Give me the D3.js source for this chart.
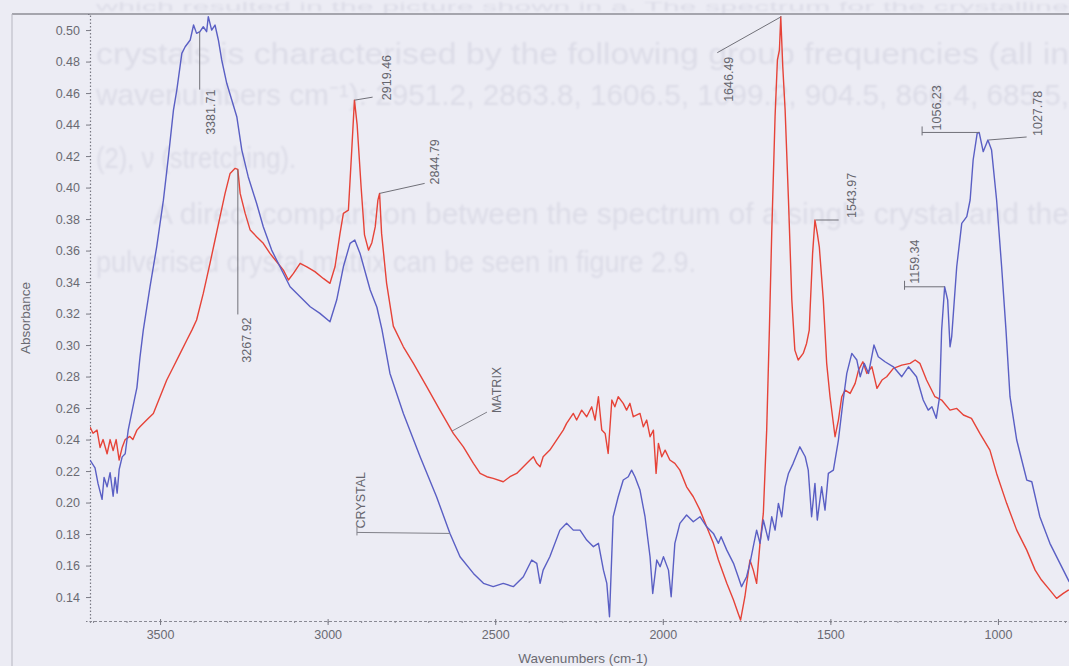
<!DOCTYPE html>
<html>
<head>
<meta charset="utf-8">
<script src="https://cdn.jsdelivr.net/npm/d3@7"></script>
<style>
  html, body { margin: 0; padding: 0; background: #ececf4; }
  svg { display: block; }
  text { font-family: "Liberation Sans", Arial, sans-serif; }
</style>
</head>
<body>
<svg id="chart" width="1069" height="666"></svg>
<script>
// ---------------- DATA ----------------
// CRYSTAL spectrum: [wavenumber (cm-1), absorbance]
const crystal = [
  [3709,0.227],[3694,0.222],[3685,0.212],[3673,0.202],[3667,0.216],[3658,0.210],[3649,0.219],
  [3640,0.204],[3634,0.216],[3628,0.206],[3622,0.221],[3613,0.229],[3604,0.231],[3595,0.246],
  [3575,0.267],[3569,0.273],[3560,0.292],[3550,0.3095],[3530,0.337],[3510,0.3624],[3490,0.392],
  [3475,0.4196],[3460,0.4492],[3450,0.4619],[3435,0.4852],[3425,0.4894],[3410,0.4937],[3400,0.5032],
  [3391,0.4979],[3381,0.499],[3371,0.5021],[3361,0.499],[3356,0.5085],[3346,0.500],[3336,0.5032],
  [3326,0.4937],[3316,0.481],[3301,0.4662],[3286,0.4556],[3271,0.445],[3256,0.4238],[3237,0.4069],
  [3212,0.390],[3192,0.3751],[3167,0.3603],[3142,0.3497],[3112,0.337],[3082,0.3307],[3052,0.3243],
  [3023,0.3201],[2993,0.3148],[2973,0.3286],[2953,0.3497],[2933,0.3646],[2919,0.3667],[2903,0.358],
  [2873,0.335],[2853,0.324],[2838,0.31],[2814,0.282],[2774,0.2566],[2724,0.2291],[2675,0.2037],
  [2635,0.1804],[2605,0.1656],[2565,0.155],[2535,0.1487],[2506,0.1466],[2476,0.1487],[2446,0.1466],
  [2416,0.1529],[2391,0.1635],[2376,0.1614],[2366,0.1487],[2357,0.1571],[2337,0.1656],[2307,0.1825],
  [2287,0.1868],[2267,0.1825],[2247,0.1825],[2227,0.1762],[2207,0.172],[2192,0.1741],[2177,0.1571],
  [2167,0.1487],[2159,0.1275],[2148,0.191],[2133,0.2037],[2118,0.2143],[2103,0.2164],[2093,0.2206],
  [2083,0.2164],[2068,0.2079],[2053,0.191],[2038,0.1656],[2030,0.1423],[2018,0.1635],[2008,0.1593],
  [1998,0.1656],[1983,0.1571],[1975,0.1402],[1964,0.1741],[1949,0.1868],[1929,0.1921],[1909,0.1878],
  [1889,0.191],[1869,0.1846],[1849,0.1804],[1834,0.1741],[1826,0.1783],[1809,0.1698],[1789,0.1614],
  [1775,0.1529],[1765,0.1466],[1750,0.1529],[1740,0.1614],[1730,0.172],[1720,0.1825],[1710,0.1741],
  [1700,0.1889],[1685,0.1762],[1675,0.191],[1665,0.1825],[1655,0.1995],[1645,0.191],[1635,0.21],
  [1625,0.2185],[1611,0.2249],[1591,0.2354],[1575,0.2291],[1566,0.2206],[1556,0.191],[1546,0.2122],
  [1539,0.1889],[1526,0.21],[1516,0.1952],[1506,0.2185],[1491,0.2206],[1476,0.2397],[1463,0.263],
  [1451,0.282],[1436,0.2947],[1421,0.2905],[1411,0.2799],[1399,0.2884],[1386,0.282],[1370,0.300],
  [1357,0.2926],[1337,0.2894],[1312,0.2862],[1287,0.2799],[1267,0.2862],[1243,0.2799],[1223,0.2651],
  [1208,0.2587],[1197,0.2608],[1184,0.2535],[1174,0.2672],[1168,0.3095],[1159,0.337],[1150,0.3286],
  [1143,0.2989],[1138,0.3053],[1133,0.3201],[1123,0.3497],[1108,0.3773],[1093,0.3815],[1083,0.3921],
  [1074,0.4175],[1062,0.4344],[1056,0.435],[1044,0.4228],[1030,0.4302],[1019,0.4238],[1004,0.3921],
  [989,0.3497],[976,0.3095],[964,0.2672],[944,0.2397],[914,0.2143],[899,0.2132],[875,0.191],
  [845,0.1741],[815,0.1614],[788,0.150],[770,0.145]
];
// MATRIX spectrum: [wavenumber (cm-1), absorbance]
const matrix = [
  [3709,0.248],[3700,0.244],[3688,0.246],[3679,0.235],[3670,0.240],[3658,0.231],[3649,0.240],
  [3640,0.233],[3631,0.240],[3622,0.227],[3613,0.235],[3604,0.240],[3590,0.242],[3581,0.240],
  [3569,0.246],[3560,0.2481],[3540,0.2524],[3520,0.2566],[3500,0.2672],[3480,0.2778],[3460,0.2862],
  [3440,0.2947],[3420,0.3032],[3405,0.3095],[3391,0.3159],[3371,0.3328],[3351,0.3519],[3336,0.3667],
  [3321,0.3815],[3306,0.3963],[3291,0.409],[3276,0.4122],[3268,0.4115],[3261,0.3963],[3246,0.3836],
  [3231,0.373],[3212,0.3688],[3192,0.3646],[3172,0.3582],[3152,0.3529],[3132,0.3476],[3117,0.3413],
  [3102,0.3455],[3082,0.3519],[3062,0.3497],[3038,0.3466],[3013,0.3423],[2993,0.3392],[2978,0.3497],
  [2963,0.3709],[2953,0.3836],[2938,0.3857],[2928,0.4238],[2920,0.4555],[2912,0.440],[2900,0.400],
  [2890,0.370],[2878,0.3603],[2868,0.365],[2858,0.375],[2850,0.392],[2845,0.3963],[2839,0.3709],
  [2824,0.3392],[2804,0.312],[2774,0.2989],[2744,0.2884],[2704,0.2735],[2665,0.2587],[2625,0.2439],
  [2595,0.2354],[2565,0.2249],[2545,0.2185],[2525,0.2164],[2506,0.2154],[2476,0.2132],[2456,0.2164],
  [2436,0.2185],[2416,0.2227],[2396,0.227],[2386,0.2291],[2376,0.2249],[2366,0.2227],[2357,0.2291],
  [2337,0.2333],[2317,0.2397],[2297,0.246],[2287,0.2503],[2267,0.2566],[2257,0.2524],[2242,0.2587],
  [2227,0.2545],[2212,0.2608],[2202,0.2524],[2192,0.2672],[2182,0.246],[2172,0.2439],[2163,0.2312],
  [2152,0.2651],[2143,0.2608],[2133,0.2672],[2118,0.263],[2108,0.2587],[2098,0.263],[2088,0.2545],
  [2068,0.2566],[2058,0.2481],[2048,0.2524],[2038,0.2418],[2028,0.246],[2020,0.2185],[2013,0.2376],
  [2003,0.2291],[1993,0.2333],[1979,0.227],[1964,0.2249],[1949,0.2206],[1929,0.21],[1909,0.2037],
  [1889,0.1952],[1869,0.1846],[1849,0.1741],[1834,0.1635],[1809,0.1487],[1789,0.1381],[1775,0.1296],
  [1768,0.1254],[1755,0.1402],[1740,0.1635],[1730,0.1571],[1720,0.1487],[1710,0.1741],[1700,0.1931],
  [1690,0.246],[1682,0.3095],[1675,0.3709],[1665,0.445],[1658,0.481],[1652,0.4873],[1648,0.5085],
  [1642,0.4767],[1635,0.4492],[1625,0.3921],[1615,0.3286],[1606,0.2968],[1596,0.2905],[1581,0.2947],
  [1571,0.301],[1563,0.3095],[1561,0.3201],[1553,0.3582],[1546,0.3794],[1539,0.3709],[1533,0.3624],
  [1521,0.3286],[1511,0.2884],[1501,0.2672],[1486,0.2418],[1476,0.2524],[1466,0.2672],[1456,0.2714],
  [1441,0.2693],[1426,0.2757],[1416,0.2841],[1403,0.2894],[1391,0.282],[1376,0.2862],[1361,0.2725],
  [1346,0.2778],[1332,0.2799],[1312,0.2852],[1287,0.2873],[1262,0.2884],[1247,0.2905],[1233,0.2884],
  [1213,0.2778],[1188,0.2672],[1168,0.2651],[1143,0.2587],[1123,0.2598],[1103,0.2556],[1079,0.2535],
  [1054,0.2439],[1024,0.2333],[1004,0.2185],[974,0.1995],[944,0.1825],[914,0.1698],[889,0.1571],
  [870,0.1508],[845,0.1444],[825,0.1392],[805,0.1423],[790,0.1444],[770,0.146]
];
// Peak annotations
const peakLabels = ["3381.71","3267.92","2919.46","2844.79","1646.49","1543.97","1159.34","1056.23","1027.78"];
const peakWn     = [3381.71, 3267.92, 2919.46, 2844.79, 1646.49, 1543.97, 1159.34, 1056.23, 1027.78];
const peakSeries = ["crystal","matrix","matrix","matrix","matrix","matrix","crystal","crystal","crystal"];
// Series name labels
const seriesNames = ["MATRIX", "CRYSTAL"];
const seriesLabelWn = [2629, 2635];
// Axis ticks
const yTicks = [0.14,0.16,0.18,0.20,0.22,0.24,0.26,0.28,0.30,0.32,0.34,0.36,0.38,0.40,0.42,0.44,0.46,0.48,0.50];
const xTicks = [3500, 3000, 2500, 2000, 1500, 1000];
const xTitle = "Wavenumbers (cm-1)";
const yTitle = "Absorbance";
// Bleed-through text of the scanned page behind the chart
const ghostLines = [
  "which resulted in the picture shown in a. The spectrum for the crystalline",
  "crystals is characterised by the following group frequencies (all in",
  "wavenumbers cm\u207B\u00B9): 2951.2, 2863.8, 1606.5, 1099.2, 904.5, 866.4, 685.5,",
  "(2), \u03BD (stretching).",
  "A direct comparison between the spectrum of a single crystal and the",
  "pulverised crystal matrix can be seen in figure 2.9."
];

// ---------------- DRAW ----------------
const W = 1069, H = 666;
const svg = d3.select("#chart");
svg.append("rect").attr("width", W).attr("height", H).attr("fill", "#ececf4");

const defs = svg.append("defs");
defs.append("filter").attr("id", "soft")
  .append("feGaussianBlur").attr("stdDeviation", 0.9);

// ghost (bleed-through) text
const ghostLayout = [
  {x: 96,  y: 11,  w: 973, fs: 13},
  {x: 96,  y: 64,  w: 973, fs: 29},
  {x: 96,  y: 105, w: 973, fs: 29},
  {x: 96,  y: 168, w: 200, fs: 29},
  {x: 153, y: 224, w: 916, fs: 29},
  {x: 96,  y: 272, w: 600, fs: 29}
];
const ghost = svg.append("g").attr("filter", "url(#soft)");
ghostLines.forEach((t, i) => {
  const L = ghostLayout[i];
  ghost.append("text")
    .attr("x", L.x).attr("y", L.y)
    .attr("textLength", L.w).attr("lengthAdjust", "spacingAndGlyphs")
    .attr("font-size", L.fs).attr("fill", "#dcdce7")
    .text(t);
});

const x = d3.scaleLinear().domain([3709, 788]).range([90, 1069]);
const y = d3.scaleLinear().domain([0.1248, 0.5102]).range([621, 14]);

// frame lines
svg.append("line").attr("x1", 12).attr("x2", W).attr("y1", 14).attr("y2", 14)
  .attr("stroke", "#8e8e96").attr("stroke-width", 1.6);
svg.append("line").attr("x1", 12).attr("x2", 12).attr("y1", 14).attr("y2", H)
  .attr("stroke", "#b6b6c0").attr("stroke-width", 1);

// Y axis
const yAxis = svg.append("g").attr("transform", "translate(90,0)")
  .call(d3.axisLeft(y).tickValues(yTicks).tickFormat(d3.format(".2f")).tickSize(4).tickPadding(6));
yAxis.select(".domain").attr("stroke", "#7a7a84").attr("stroke-dasharray", "1.5,2").attr("stroke-width", 1.2);
yAxis.selectAll(".tick line").attr("stroke", "#7a7a84");
yAxis.selectAll(".tick text").attr("font-size", 12.5).attr("fill", "#6a6a72")
  .attr("font-family", "Liberation Sans, Arial, sans-serif");

// X axis
const minor = d3.range(3700, 780, -100);
const xMinor = svg.append("g").attr("transform", "translate(0,621)")
  .call(d3.axisBottom(x).tickValues(minor).tickSize(2).tickFormat(""));
xMinor.select(".domain").attr("stroke", "#8a8a94").attr("stroke-dasharray", "3,2").attr("stroke-width", 1.2);
xMinor.selectAll(".tick line").attr("stroke", "#8a8a94");
const xAxis = svg.append("g").attr("transform", "translate(0,621)")
  .call(d3.axisBottom(x).tickValues(xTicks).tickFormat(d3.format("d")).tickSize(4).tickPadding(5));
xAxis.select(".domain").remove();
xAxis.selectAll(".tick line").attr("stroke", "#7a7a84").attr("y1", -2);
xAxis.selectAll(".tick text").attr("font-size", 12.5).attr("fill", "#6a6a72")
  .attr("font-family", "Liberation Sans, Arial, sans-serif");

// Titles
svg.append("text").attr("x", 583).attr("y", 663).attr("text-anchor", "middle")
  .attr("font-size", 13.5).attr("fill", "#6a6a72").text(xTitle);
svg.append("text").attr("transform", "translate(30,318) rotate(-90)").attr("text-anchor", "middle")
  .attr("font-size", 13.5).attr("fill", "#6a6a72").text(yTitle);

// Curves
svg.append("clipPath").attr("id", "plotclip")
  .append("rect").attr("x", 90).attr("y", 0).attr("width", W - 90).attr("height", 622);
const line = d3.line().x(d => x(d[0])).y(d => y(d[1]));
const plot = svg.append("g").attr("clip-path", "url(#plotclip)");
plot.append("path").datum(matrix).attr("d", line).attr("fill", "none")
  .attr("stroke", "#e64338").attr("stroke-width", 1.4).attr("stroke-linejoin", "round");
plot.append("path").datum(crystal).attr("d", line).attr("fill", "none")
  .attr("stroke", "#5a5fc4").attr("stroke-width", 1.4).attr("stroke-linejoin", "round");

// interpolation helpers
function valueAt(series, wn) {
  for (let i = 0; i < series.length - 1; i++) {
    const a = series[i], b = series[i + 1];
    if (wn <= a[0] && wn >= b[0]) {
      const t = (a[0] - wn) / (a[0] - b[0]);
      return a[1] + t * (b[1] - a[1]);
    }
  }
  return series[series.length - 1][1];
}
function peakValue(series, wn) {
  let best = valueAt(series, wn);
  series.forEach(d => { if (Math.abs(d[0] - wn) <= 6 && d[1] > best) best = d[1]; });
  return best;
}

// annotation layout (offsets from the peak point): leader polyline, label anchor
const annLayout = [
  {pts: [[0,0],[0,58]],  lab: [15, 58],  anchor: "end",   tick: false},
  {pts: [[0,0],[0,145]], lab: [13, 148], anchor: "end",   tick: false},
  {pts: [[0,0],[18,-3]], lab: [36, 0],   anchor: "start", tick: false},
  {pts: [[0,0],[45,-10]],lab: [59, -9],  anchor: "start", tick: false},
  {pts: [[0,0],[-64,36]],lab: [-48, 40], anchor: "end",   tick: false},
  {pts: [[0,0],[23,0]],  lab: [40, -2],  anchor: "start", tick: false},
  {pts: [[0,0],[-40,0]], lab: [-26, -3], anchor: "start", tick: true},
  {pts: [[0,0],[-57,0]], lab: [-38, -2], anchor: "start", tick: true},
  {pts: [[0,0],[38,-3]], lab: [53, -4],  anchor: "start", tick: false}
];
const ann = svg.append("g");
peakLabels.forEach((lab, i) => {
  const s = peakSeries[i] === "crystal" ? crystal : matrix;
  const px = x(peakWn[i]);
  const py = Math.max(y(peakValue(s, peakWn[i])), 16);
  const L = annLayout[i];
  ann.append("polyline")
    .attr("points", L.pts.map(p => [px + p[0], py + p[1]].join(",")).join(" "))
    .attr("fill", "none").attr("stroke", "#707078").attr("stroke-width", 1);
  if (L.tick) {
    const e = L.pts[L.pts.length - 1];
    ann.append("line").attr("x1", px + e[0]).attr("x2", px + e[0])
      .attr("y1", py + e[1] - 6).attr("y2", py + e[1] + 3)
      .attr("stroke", "#707078").attr("stroke-width", 1);
  }
  ann.append("text")
    .attr("transform", `translate(${px + L.lab[0]},${py + L.lab[1]}) rotate(-90)`)
    .attr("text-anchor", L.anchor).attr("font-size", 12.5).attr("fill", "#66666e")
    .text(lab);
});

// series name labels
const seriesLayout = [
  {pts: [[0,0],[35,-19]], lab: [49, -18], tick: false},
  {pts: [[0,0],[-93,-1]], lab: [-85, -5], tick: true}
];
seriesNames.forEach((nm, i) => {
  const s = i === 0 ? matrix : crystal;
  const px = x(seriesLabelWn[i]);
  const py = y(valueAt(s, seriesLabelWn[i]));
  const L = seriesLayout[i];
  ann.append("polyline")
    .attr("points", L.pts.map(p => [px + p[0], py + p[1]].join(",")).join(" "))
    .attr("fill", "none").attr("stroke", "#808088").attr("stroke-width", 1);
  if (L.tick) {
    const e = L.pts[L.pts.length - 1];
    ann.append("line").attr("x1", px + e[0]).attr("x2", px + e[0])
      .attr("y1", py + e[1] - 6).attr("y2", py + e[1] + 3)
      .attr("stroke", "#808088").attr("stroke-width", 1);
  }
  ann.append("text")
    .attr("transform", `translate(${px + L.lab[0]},${py + L.lab[1]}) rotate(-90)`)
    .attr("text-anchor", "start").attr("font-size", 12.5).attr("fill", "#66666e")
    .text(nm);
});
</script>
</body>
</html>
